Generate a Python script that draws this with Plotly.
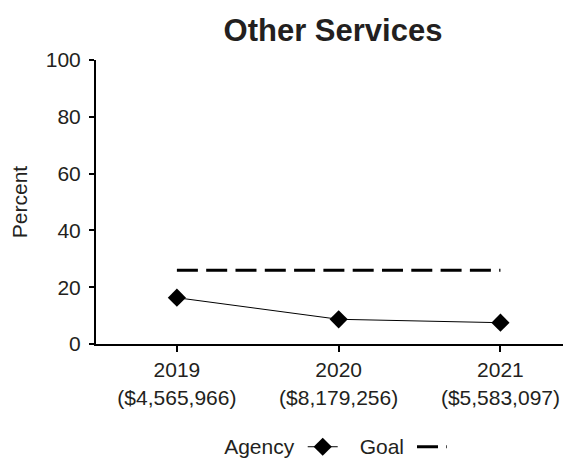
import plotly.graph_objects as go

categories = ["2019<br>($4,565,966)", "2020<br>($8,179,256)", "2021<br>($5,583,097)"]
agency = [16.3, 8.7, 7.5]
goal = [26, 26, 26]
y_ticks = [0, 20, 40, 60, 80, 100]

x_idx = list(range(len(categories)))
FONT = "Liberation Sans, Arial, sans-serif"
TXT = "#231f20"

fig = go.Figure()
fig.add_trace(go.Scatter(
    x=x_idx, y=agency, name="", mode="lines+markers",
    line=dict(color="black", width=1),
    marker=dict(symbol="diamond", size=14, color="black"),
    legend="legend", hovertemplate="Agency: %{y}<extra></extra>",
))
fig.add_trace(go.Scatter(
    x=x_idx, y=goal, name="", mode="lines",
    line=dict(color="black", width=3, dash="21px,8.3px"),
    legend="legend2", hovertemplate="Goal: %{y}<extra></extra>",
))

axis_common = dict(showline=True, linecolor="black", linewidth=2, automargin=False,
                   tickwidth=2, tickcolor="black", showgrid=False, zeroline=False)

fig.update_layout(
    template="none",
    width=571, height=460,
    paper_bgcolor="white", plot_bgcolor="white",
    font=dict(family=FONT, size=21, color=TXT),
    title=dict(text="<b>Other Services</b>", x=0.5, xref="paper", xanchor="center",
               y=0.952, yanchor="middle", font=dict(size=31, color=TXT)),
    margin=dict(l=88, r=9, t=52, b=124, autoexpand=False),
    showlegend=True,
    legend=dict(title=dict(text="Agency", side="left", font=dict(size=21)),
                orientation="h", x=0.532, xanchor="right", y=-0.363, yanchor="middle",
                font=dict(size=21), itemwidth=30, tracegroupgap=0,
                bgcolor="rgba(0,0,0,0)", borderwidth=0),
    legend2=dict(title=dict(text="Goal", side="left", font=dict(size=21)),
                 orientation="h", x=0.552, xanchor="left", y=-0.363, yanchor="middle",
                 font=dict(size=21), itemwidth=30, tracegroupgap=0,
                 bgcolor="rgba(0,0,0,0)", borderwidth=0),
    xaxis=dict(range=[-0.5, 2.43], tickvals=x_idx, ticktext=categories,
               ticks="outside", ticklen=6, **axis_common),
    yaxis=dict(range=[0, 100], tickvals=y_ticks, ticks="outside", ticklen=5,
               ticklabelstandoff=4,
               title=dict(text="Percent", font=dict(size=21), standoff=12),
               **axis_common),
    # overlay axes carrying the inner half of the crossing tick marks
    xaxis2=dict(overlaying="x", matches="x", tickvals=x_idx, showticklabels=False,
                ticks="inside", ticklen=6, **axis_common),
    yaxis2=dict(overlaying="y", matches="y", tickvals=y_ticks, showticklabels=False,
                ticks="inside", ticklen=5, **axis_common),
)

fig.write_html("out.html")
